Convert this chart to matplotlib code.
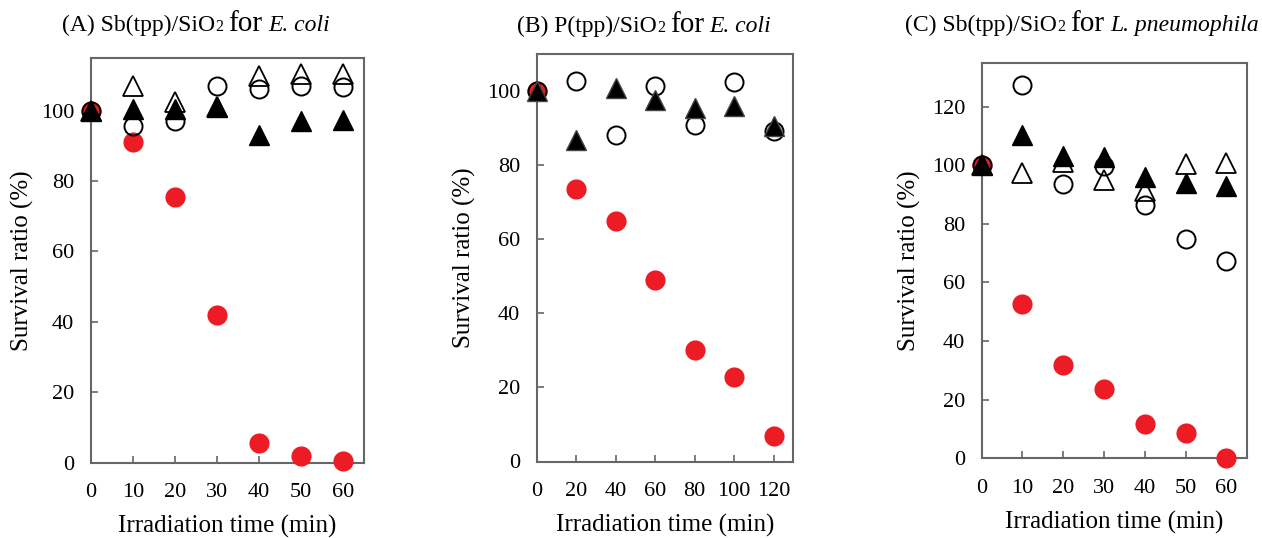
import matplotlib
matplotlib.use("Agg")
import matplotlib.pyplot as plt

plt.rcParams['font.family'] = ['Liberation Serif', 'DejaVu Serif']

# ---------------- data ----------------
time_A = [0, 10, 20, 30, 40, 50, 60]
A_red = [100, 91, 75.6, 41.8, 5.5, 1.8, 0.4]
A_open_circle = [100, 95.6, 97.2, 107, 106.3, 107, 106.8]
A_open_tri = [100, 107, 102.6, 101, 109.8, 110.4, 110.4]
A_filled_tri = [100, 100.6, 100.5, 101, 93, 97, 97.5]

time_B = [0, 20, 40, 60, 80, 100, 120]
B_red = [100, 73.7, 64.9, 48.9, 30, 22.7, 7]
B_open_circle = [100, 102.9, 88.1, 101.4, 91, 102.6, 89.3]
B_filled_tri = [100, 86.8, 100.8, 97.7, 95.5, 95.9, 90.5]

time_C = [0, 10, 20, 30, 40, 50, 60]
C_red = [100, 52.7, 32, 23.8, 11.8, 8.8, 0]
C_open_circle = [100, 127.5, 93.7, 99.9, 86.3, 74.9, 67.4]
C_open_tri = [100, 97.4, 101, 95.1, 91.3, 100.5, 100.8]
C_filled_tri = [100, 110.4, 103.2, 102.7, 96, 94, 93]

xticks_A = [0, 10, 20, 30, 40, 50, 60]
xticks_B = [0, 20, 40, 60, 80, 100, 120]
xticks_C = [0, 10, 20, 30, 40, 50, 60]
yticks_A = [0, 20, 40, 60, 80, 100]
yticks_B = [0, 20, 40, 60, 80, 100]
yticks_C = [0, 20, 40, 60, 80, 100, 120]

titles = [
    ("(A)", "Sb(tpp)/SiO", "E. coli"),
    ("(B)", "P(tpp)/SiO", "E. coli"),
    ("(C)", "Sb(tpp)/SiO", "L. pneumophila"),
]

# ---------------- figure ----------------
W, H = 1262, 538
fig = plt.figure(figsize=(W / 100, H / 100), dpi=100)

def px_axes(l, r, t, b):
    return fig.add_axes([l / W, 1 - b / H, (r - l) / W, (b - t) / H])

RED = '#ED1C24'
SPINE = '#666666'
MS = 14

def draw_panel(ax, t, red, ocirc, otri, ftri, xlim, ylim, xt, yt, fedge='black'):
    ax.plot(t, red, 'o', ms=MS + 0.5, mfc=RED, mec=RED, mew=0, ls='none', zorder=3)
    ax.plot(t, ocirc, 'o', ms=MS - 1, mfc='none', mec='black', mew=1.4, ls='none', zorder=4)
    if otri is not None:
        ax.plot(t, otri, '^', ms=MS, mfc='none', mec='black', mew=1.3, ls='none', zorder=5)
    ax.plot(t, ftri, '^', ms=MS, mfc='black', mec=fedge, mew=1.0, ls='none', zorder=6)
    ax.set_xlim(*xlim)
    ax.set_ylim(*ylim)
    ax.set_xticks(xt)
    ax.set_yticks(yt)
    ax.tick_params(direction='in', length=5, width=1.2, color=SPINE, labelsize=16)
    ax.tick_params(axis='x', pad=15)
    ax.tick_params(axis='y', pad=12)
    for s in ax.spines.values():
        s.set_color(SPINE)
        s.set_linewidth(1.5)
    for m in ax.lines:
        m.set_clip_on(False)
    ax.set_xlabel('Irradiation time (min)', fontsize=18, labelpad=9)
    ax.set_ylabel('Survival ratio (%)', fontsize=18, labelpad=8)

axA = px_axes(91, 364, 58, 462.5)
axB = px_axes(536.7, 793.3, 54.3, 461.5)
axC = px_axes(981.7, 1246.7, 62.7, 458.3)

draw_panel(axA, time_A, A_red, A_open_circle, A_open_tri, A_filled_tri,
           (0, 65), (0, 115), xticks_A, yticks_A)
draw_panel(axB, time_B, B_red, B_open_circle, None, B_filled_tri,
           (0, 130), (0, 110), xticks_B, yticks_B, fedge='#444444')
draw_panel(axC, time_C, C_red, C_open_circle, C_open_tri, C_filled_tri,
           (0, 65), (0, 135), xticks_C, yticks_C)
axA.yaxis.labelpad = 5

# ---------------- rich titles ----------------
renderer = fig.canvas.get_renderer()

def rich_title(x_px, base_px, label, compound, species):
    pieces = [
        (label + " " + compound, 17, 'normal', 0, 0),
        ("2", 11.5, 'normal', 0, 5),
        ("for", 21, 'normal', 0, 6),
        (species, 17, 'italic', 0, 0),
    ]
    x = x_px
    for text, size, style, dy, gap_after in pieces:
        t = fig.text(x / W, 1 - (base_px + dy) / H, text, fontsize=size,
                     style=style, va='baseline', ha='left')
        bb = t.get_window_extent(renderer=renderer)
        x = bb.x1 + gap_after
    return x

rich_title(62, 31, *titles[0])
rich_title(517, 32, *titles[1])
rich_title(905, 31, *titles[2])

fig.savefig('out.png', dpi=100)
